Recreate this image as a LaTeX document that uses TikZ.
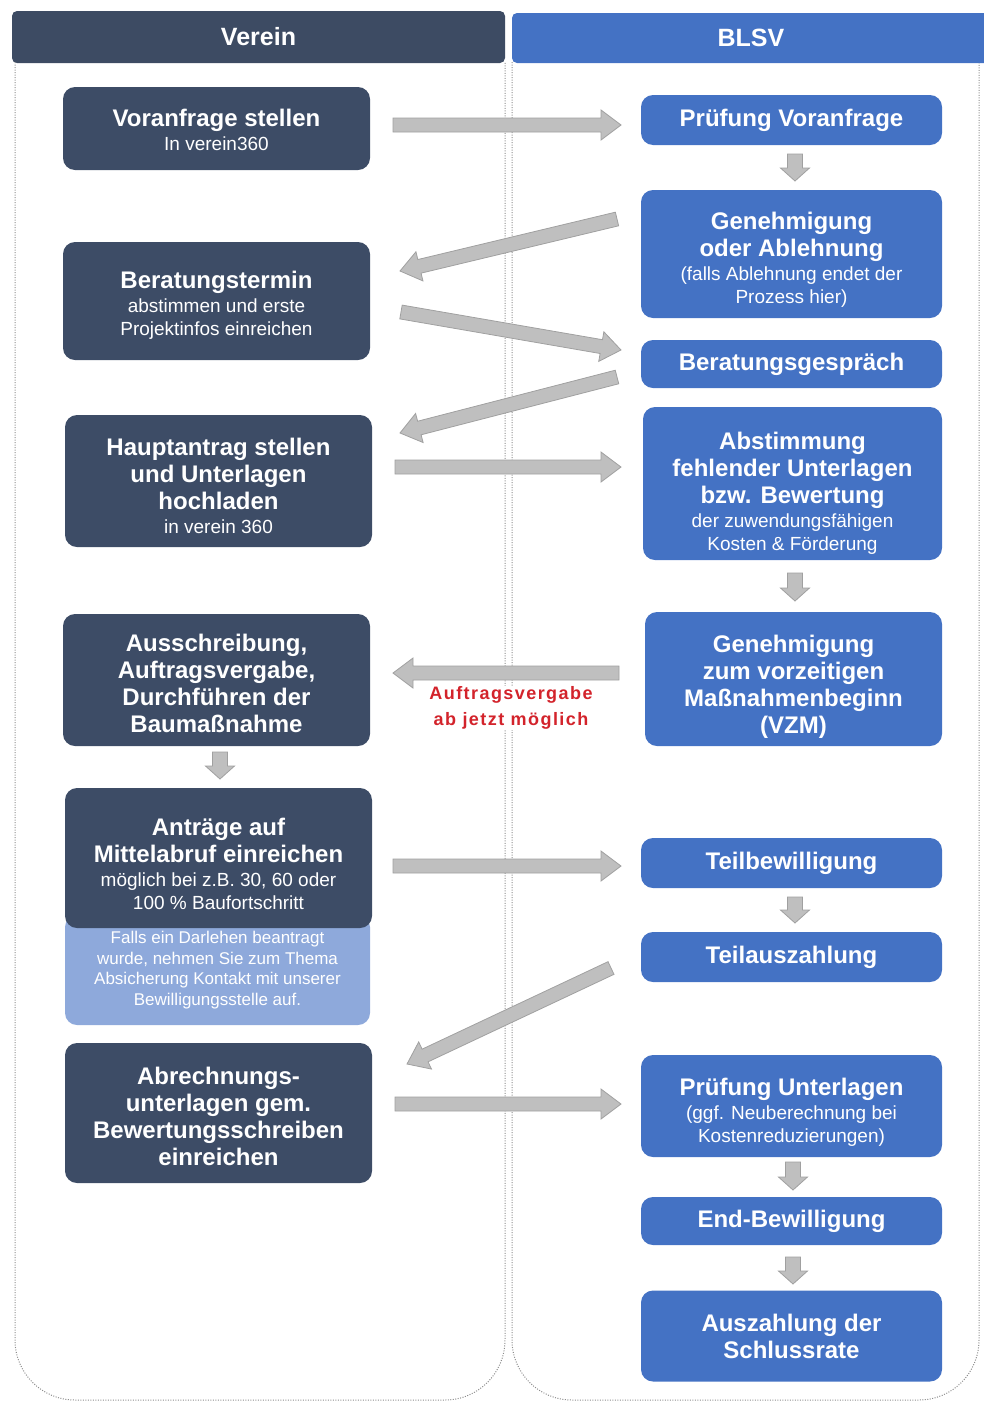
\documentclass[tikz,border=0pt]{standalone}
\usepackage{fontspec}
\setmainfont{Liberation Sans}
\newfontfamily\redfont{Liberation Sans}[LetterSpace=8]
\usetikzlibrary{calc}

\definecolor{hdark}{HTML}{3D4B63}
\definecolor{bdark}{HTML}{3D4C66}
\definecolor{bblue}{HTML}{4472C4}
\definecolor{blight}{HTML}{8EA9DB}
\definecolor{arfill}{HTML}{BFBFBF}
\definecolor{ardraw}{HTML}{A0A0A0}
\definecolor{redlbl}{HTML}{D3232B}
\definecolor{lanegray}{HTML}{8C8C8C}

\newcommand\sbt[1]{{\fontsize{19}{23}\selectfont\mdseries #1}}
\newcommand\dn[1]{\rule{0pt}{#1}}
\newcommand\barr[5]{%
  \filldraw[barrow] ($(#1)!#3!-90:(#2)$) -- ($(#2)!#5!(#1)!#3!-90:(#2)$) --
  ($(#2)!#5!(#1)!#4!-90:(#2)$) -- (#2) -- ($(#2)!#5!(#1)!#4!90:(#2)$) --
  ($(#2)!#5!(#1)!#3!90:(#2)$) -- ($(#1)!#3!90:(#2)$) -- cycle;}
\newcommand\bigarr[2]{\barr{#1}{#2}{7pt}{15pt}{20pt}}
\newcommand\downarr[2]{\barr{#1}{#2}{7.5pt}{14.5pt}{13pt}}

\tikzset{
  box/.style={rounded corners=12pt, text=white, align=center,
    font=\fontsize{24}{27}\selectfont\bfseries, inner sep=0pt},
  darkbox/.style={box, fill=bdark, minimum width=307pt},
  bluebox/.style={box, fill=bblue, minimum width=301pt},
  notebox/.style={box, fill=blight, minimum width=305pt,
    font=\fontsize{17}{20.5}\selectfont},
  hdr/.style={rounded corners=5pt, text=white,
    font=\fontsize{25}{28}\selectfont\bfseries, inner sep=0pt},
  lane/.style={draw=lanegray, line width=1pt, dash pattern=on 1pt off 1.5pt, rounded corners=60pt},
  barrow/.style={fill=arfill, draw=ardraw, line width=0.8pt, line join=miter},
  redlabel/.style={font=\redfont\fontsize{18}{26}\selectfont\bfseries,
    text=redlbl, align=center, fill=white, inner sep=1pt},
}

\begin{document}
\begin{tikzpicture}[x=1pt, y=-1pt]
\useasboundingbox (0,0) rectangle (983,1403);

% swim lanes
\draw[lane] (15,62) -- (15,1400) -- (505,1400) -- (505,62);
\draw[lane] (512,62) -- (512,1400) -- (979,1400) -- (979,62);

% headers
\node[hdr, fill=hdark, minimum width=493pt, minimum height=52pt] (hv) at (258.5,37) {Verein};
\node[hdr, fill=bblue, minimum width=478pt, minimum height=50pt] (hb) at (751,38) {BLSV};

% left column
\node[darkbox, minimum height=83pt] (voran) at (216.5,128.5)
  {\dn{19.5pt}Voranfrage stellen\\[-3pt]\sbt{In verein360}};
\node[darkbox, minimum height=118pt] (berat) at (216.5,301)
  {\dn{25.5pt}Beratungstermin\\[-3pt]\sbt{abstimmen und erste}\\[-4pt]\sbt{Projektinfos einreichen}};
\node[darkbox, minimum height=132pt] (haupt) at (218.5,481)
  {\dn{27.5pt}Hauptantrag stellen\\und Unterlagen\\hochladen\\[-3pt]\sbt{in verein 360}};
\node[darkbox, minimum height=132pt] (aussch) at (216.5,680)
  {\dn{23.5pt}Ausschreibung,\\Auftragsvergabe,\\Durchführen der\\Baumaßnahme};
\node[notebox, minimum height=110pt] (note) at (217.5,970)
  {Falls ein Darlehen beantragt\\wurde, nehmen Sie zum Thema\\Absicherung Kontakt mit unserer\\Bewilligungsstelle auf.};
\node[darkbox, minimum height=140pt] (antrag) at (218.5,858)
  {\dn{29.6pt}Anträge auf\\Mittelabruf einreichen\\[-3pt]\sbt{möglich bei z.B. 30, 60 oder}\\[-4pt]\sbt{100 \% Baufortschritt}};
\node[darkbox, minimum height=140pt] (abrech) at (218.5,1113)
  {\dn{23.5pt}Abrechnungs-\\unterlagen gem.\\Bewertungsschreiben\\einreichen};

% right column
\node[bluebox, minimum height=50pt] (pruef) at (791.5,120) {Prüfung Voranfrage};
\node[bluebox, minimum height=128pt] (geneh) at (791.5,254)
  {\dn{29.5pt}Genehmigung\\oder Ablehnung\\[-3pt]\sbt{(falls Ablehnung endet der}\\[-4pt]\sbt{Prozess hier)}};
\node[bluebox, minimum height=48pt] (beratg) at (791.5,364) {Beratungsgespräch};
\node[bluebox, minimum width=299pt, minimum height=153pt] (abst) at (792.5,483.5)
  {\dn{37.5pt}Abstimmung\\fehlender Unterlagen\\bzw. Bewertung\\[-3pt]\sbt{der zuwendungsfähigen}\\[-4pt]\sbt{Kosten \& Förderung}};
\node[bluebox, minimum width=297pt, minimum height=134pt] (vzm) at (793.5,679)
  {\dn{33.5pt}Genehmigung\\zum vorzeitigen\\Maßnahmenbeginn\\(VZM)};
\node[bluebox, minimum height=50pt] (teilb) at (791.5,863) {Teilbewilligung};
\node[bluebox, minimum height=50pt] (teila) at (791.5,957) {Teilauszahlung};
\node[bluebox, minimum height=102pt] (prufu) at (791.5,1106)
  {\dn{29.6pt}Prüfung Unterlagen\\[-3pt]\sbt{(ggf. Neuberechnung bei}\\[-4pt]\sbt{Kostenreduzierungen)}};
\node[bluebox, minimum height=48pt] (endb) at (791.5,1221) {End-Bewilligung};
\node[bluebox, minimum height=91pt] (ausz) at (791.5,1336) {Auszahlung der\\Schlussrate};

% red label
\node[redlabel] (lbl) at (511,708) {Auftragsvergabe\\ab jetzt möglich};

% arrow end points
\coordinate (a1s) at (393,125);  \coordinate (a1e) at (621,125);
\coordinate (d1s) at (795,154);  \coordinate (d1e) at (795,181);
\coordinate (a2s) at (617,219);  \coordinate (a2e) at (400,271);
\coordinate (a3s) at (401,312);  \coordinate (a3e) at (621,350);
\coordinate (a4s) at (617,377);  \coordinate (a4e) at (400,433);
\coordinate (a5s) at (395,467);  \coordinate (a5e) at (621,467);
\coordinate (d2s) at (795,573);  \coordinate (d2e) at (795,601);
\coordinate (a6s) at (619,673);  \coordinate (a6e) at (393,673);
\coordinate (d3s) at (220,752);  \coordinate (d3e) at (220,779);
\coordinate (a7s) at (393,866);  \coordinate (a7e) at (621,866);
\coordinate (d4s) at (795,897);  \coordinate (d4e) at (795,923);
\coordinate (a8s) at (611,968);  \coordinate (a8e) at (407,1064);
\coordinate (a9s) at (395,1104); \coordinate (a9e) at (621,1104);
\coordinate (d5s) at (793,1162); \coordinate (d5e) at (793,1190);
\coordinate (d6s) at (793,1257); \coordinate (d6e) at (793,1284);

% arrows
\bigarr{a1s}{a1e}
\downarr{d1s}{d1e}
\bigarr{a2s}{a2e}
\bigarr{a3s}{a3e}
\bigarr{a4s}{a4e}
\bigarr{a5s}{a5e}
\downarr{d2s}{d2e}
\bigarr{a6s}{a6e}
\downarr{d3s}{d3e}
\bigarr{a7s}{a7e}
\downarr{d4s}{d4e}
\bigarr{a8s}{a8e}
\bigarr{a9s}{a9e}
\downarr{d5s}{d5e}
\downarr{d6s}{d6e}
\end{tikzpicture}
\end{document}
